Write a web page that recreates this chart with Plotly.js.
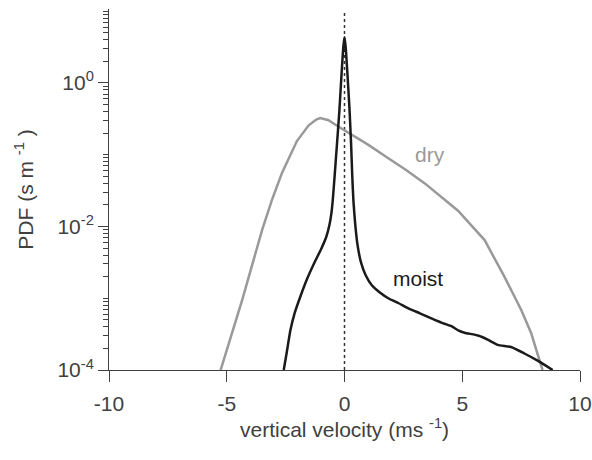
<!DOCTYPE html>
<html>
<head>
<meta charset="utf-8">
<script src="https://cdn.plot.ly/plotly-3.0.1.min.js"></script>
<style>html,body{margin:0;padding:0;background:#fff;}#chart{width:592px;height:460px;}</style>
</head>
<body>
<div id="chart"></div>
<script>
// Dry PDF: vertical velocity (m/s) and log10(PDF)
const dryW = [-5.26, -4.34, -3.50, -3.07, -2.65, -2.30, -2.02, -1.52, -1.20, -1.03, -0.68, -0.25, 0.31, 1.0, 1.86, 2.60, 3.41, 4.82, 5.95, 6.79, 7.50, 7.92, 8.20, 8.41];
const dryLogP = [-4.0, -3.02, -2.05, -1.62, -1.25, -1.00, -0.81, -0.59, -0.51, -0.49, -0.52, -0.61, -0.72, -0.86, -1.05, -1.21, -1.40, -1.78, -2.19, -2.70, -3.16, -3.48, -3.78, -4.0];

// Moist PDF
const moistW = [-2.58, -2.45, -2.30, -2.12, -1.90, -1.60, -1.30, -1.00, -0.78, -0.64, -0.55, -0.49, -0.42, -0.33, -0.22, -0.12, -0.05, 0, 0.05, 0.12, 0.21, 0.28, 0.33, 0.38, 0.45, 0.55, 0.70, 0.90, 1.16, 1.50, 1.86, 2.30, 2.71, 3.20, 3.69, 4.20, 4.54, 4.85, 5.10, 5.67, 6.10, 6.51, 7.07, 7.64, 8.20, 8.84];
const moistLogP = [-4.0, -3.75, -3.45, -3.21, -3.00, -2.74, -2.52, -2.32, -2.15, -1.98, -1.80, -1.60, -1.30, -0.90, -0.40, 0.15, 0.50, 0.635, 0.50, 0.15, -0.35, -0.85, -1.30, -1.65, -1.95, -2.25, -2.50, -2.68, -2.82, -2.92, -3.00, -3.07, -3.14, -3.21, -3.28, -3.35, -3.39, -3.45, -3.48, -3.52, -3.58, -3.65, -3.68, -3.77, -3.87, -4.0];

// Axis ticks
const xTickVals = [-10, -5, 0, 5, 10];
const xTickText = ["-10", "-5", "0", "5", "10"];
const yTickVals = [1e-4, 1e-2, 1];
const yTickText = ["10<sup>-4</sup>", "10<sup>-2</sup>", "10<sup>0</sup>"];

// Labels
const labelDry = "dry";
const labelMoist = "moist";
const dryLabelPos = [3.64, -1.0];
const moistLabelPos = [3.13, -2.72];
const zeroLineW = [0, 0];
const zeroLineP = [1e-4, 10];

const pow10 = a => a.map(v => Math.pow(10, v));

const minorVals = [];
for (let e = -4; e <= 1; e++) {
  for (let k = 2; k <= 9; k++) minorVals.push(k * Math.pow(10, e));
  if (e === -3 || e === -1 || e === 1) minorVals.push(Math.pow(10, e));
}

const textColor = '#404040';
const fam = '"Liberation Sans", Arial, Helvetica, sans-serif';
const font = {family: fam, size: 21, color: textColor};

const traces = [
  {x: zeroLineW, y: zeroLineP, mode: 'lines', line: {color: '#333333', width: 1.5, dash: 'dot'}, hoverinfo: 'skip'},
  {x: dryW, y: pow10(dryLogP), mode: 'lines', line: {color: '#999999', width: 2.5}, name: labelDry},
  {x: moistW, y: pow10(moistLogP), mode: 'lines', line: {color: '#1a1a1a', width: 2.5, shape: 'spline', smoothing: 0.5}, name: labelMoist}
];

const layout = {
  width: 592, height: 460,
  margin: {l: 109, r: 12, t: 9, b: 90},
  paper_bgcolor: '#ffffff', plot_bgcolor: '#ffffff',
  showlegend: false,
  font: font,
  xaxis: {
    range: [-10, 10], tickmode: 'array', tickvals: xTickVals, ticktext: xTickText,
    ticks: 'outside', ticklen: 11, tickwidth: 1, tickcolor: textColor,
    showline: true, linecolor: textColor, linewidth: 1,
    showgrid: false, zeroline: false,
    tickfont: font, ticklabelstandoff: 4, ticklabeloverflow: 'allow',
    title: {text: 'vertical velocity (ms <sup>-1</sup>)', font: font, standoff: 6}
  },
  yaxis: {
    type: 'log', range: [-4, 1.03], tickmode: 'array', tickvals: yTickVals, ticktext: yTickText,
    ticks: 'outside', ticklen: 10, tickwidth: 1, tickcolor: textColor,
    minor: {tickmode: 'array', tickvals: minorVals, ticks: 'outside', ticklen: 5, tickcolor: textColor, tickwidth: 1, showgrid: false},
    showline: true, linecolor: textColor, linewidth: 1,
    showgrid: false, zeroline: false,
    tickfont: font, ticklabelstandoff: 0, ticklabeloverflow: 'allow',
    title: {text: 'PDF (s m <sup>-1</sup> )', font: font, standoff: 18}
  },
  annotations: [
    {x: dryLabelPos[0], y: dryLabelPos[1], xref: 'x', yref: 'y', text: labelDry, showarrow: false, font: {family: fam, size: 21, color: '#999999'}},
    {x: moistLabelPos[0], y: moistLabelPos[1], xref: 'x', yref: 'y', text: labelMoist, showarrow: false, font: {family: fam, size: 21, color: '#1a1a1a'}}
  ]
};

Plotly.newPlot('chart', traces, layout, {displayModeBar: false, staticPlot: true});
</script>
</body>
</html>
